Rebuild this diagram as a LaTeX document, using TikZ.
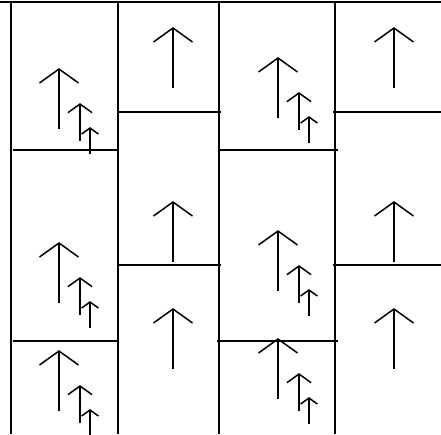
\documentclass[tikz,border=0pt]{standalone}
\begin{document}
\begin{tikzpicture}[x=1pt,y=-1pt,
  frameline/.style={line width=2pt,black},
  arrowline/.style={line width=1.5pt,black},
  uparr/.pic={\draw[arrowline] (0,0) -- (0,60);
              \draw[arrowline] (-19.5,14) -- (0,0) -- (19.5,14);}]
\useasboundingbox (0,0) rectangle (441,434);
% frame lines
\draw[frameline] (0,1.5) -- (441,1.5);
\foreach \x in {11,118,219,335} \draw[frameline] (\x,1.5) -- (\x,434);
\draw[frameline] (13,150) -- (117,150);
\draw[frameline] (13,341) -- (117,341);
\draw[frameline] (119,112) -- (221,112);
\draw[frameline] (117,265) -- (221,265);
\draw[frameline] (218,150) -- (338,150);
\draw[frameline] (217,341) -- (338,341);
\draw[frameline] (333,112) -- (441,112);
\draw[frameline] (333,265) -- (441,265);
% triple arrow groups
\foreach \x/\y in {59/69,59/243,59/351,278/58,278/231,278/339} {
  \pic at (\x,\y) {uparr};
  \pic[scale=0.62] at (\x+21,\y+35) {uparr};
  \pic[scale=0.43] at (\x+31,\y+59) {uparr};
}
% single arrows
\foreach \x/\y in {173/28,173/202,173/309,394/28,394/202,394/309}
  \pic at (\x,\y) {uparr};
\end{tikzpicture}
\end{document}
